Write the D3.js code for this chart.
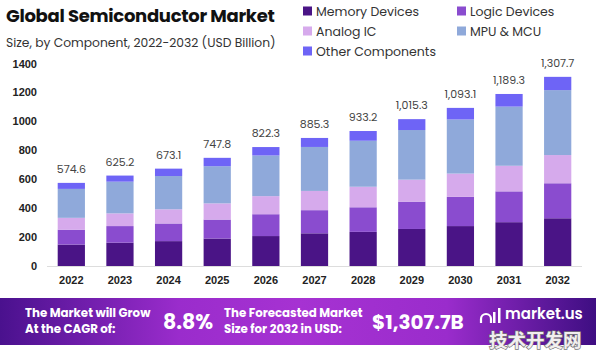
<!DOCTYPE html>
<html><head><meta charset="utf-8">
<script src="https://cdn.jsdelivr.net/npm/d3@7"></script>
<style>
html,body{margin:0;padding:0;background:#fff;}
svg{display:block;font-family:"Poppins","Inter","Noto Sans",sans-serif;}
</style></head>
<body>
<script>
const years = ["2022","2023","2024","2025","2026","2027","2028","2029","2030","2031","2032"];
const totals = [574.6,625.2,673.1,747.8,822.3,885.3,933.2,1015.3,1093.1,1189.3,1307.7];
const totalLabels = ["574.6","625.2","673.1","747.8","822.3","885.3","933.2","1,015.3","1,093.1","1,189.3","1,307.7"];
const memory = [148,161,172,190,207,226,236,256,276,303,330];
const logic  = [103,115,122,131,151,160,170,189,202,213,242];
const analog = [82,88,98,112,125,133,142,152,161,177,195];
const mpu    = [200,219,230,257,281,304,318,343,374,409,449];
const other  = [41.6,42.2,51.1,57.8,58.3,62.3,67.2,75.3,80.1,87.3,91.7];
const seriesNames = ["Memory Devices","Logic Devices","Analog IC","MPU & MCU","Other Components"];
const colors = ["#4a1486","#8a4ccf","#d6aaec","#8fa9da","#6e64f6"];
const yTicks = [0,200,400,600,800,1000,1200,1400];

const W=596,H=352;
const svg=d3.select("body").append("svg").attr("width",W).attr("height",H);

const rows = years.map((y,i)=>({year:y,"Memory Devices":memory[i],"Logic Devices":logic[i],"Analog IC":analog[i],"MPU & MCU":mpu[i],"Other Components":other[i]}));
const stack=d3.stack().keys(seriesNames)(rows);

const x=d3.scaleBand().domain(years).range([47,582]).paddingInner(0.44).paddingOuter(0.22);
const y=d3.scaleLinear().domain([0,1400]).range([266,63.5]);

// title
svg.append("text").attr("x",6).attr("y",22).attr("font-size",18).attr("font-weight",700).attr("fill","#111").attr("letter-spacing",-0.3).text("Global Semiconductor Market");
svg.append("text").attr("x",6).attr("y",47).attr("font-size",12.3).attr("fill","#333").text("Size, by Component, 2022-2032 (USD Billion)");

// legend
const legPos=[[303,11],[457,11],[303,31],[457,31],[303,51]];
seriesNames.forEach((n,i)=>{
  const g=svg.append("g").attr("transform",`translate(${legPos[i][0]},${legPos[i][1]})`);
  g.append("rect").attr("x",0).attr("y",-4.5).attr("width",9).attr("height",9).attr("fill",colors[i]);
  g.append("text").attr("x",13).attr("y",4.5).attr("font-size",12.5).attr("fill","#333").text(n);
});

// y axis
const ya=svg.append("g").attr("transform","translate(37,0)")
  .call(d3.axisLeft(y).tickValues(yTicks).tickFormat(d3.format("d")).tickSize(0).tickPadding(0));
ya.select(".domain").remove();
ya.selectAll("text").attr("font-size",11).attr("font-weight",700).attr("fill","#222").style("font-family","inherit");

// baseline
svg.append("line").attr("x1",47).attr("x2",582).attr("y1",266.5).attr("y2",266.5).attr("stroke","#ddd");

// bars
stack.forEach((s,si)=>{
  svg.append("g").attr("fill",colors[si]).selectAll("rect").data(s).join("rect")
    .attr("x",d=>x(d.data.year)).attr("width",x.bandwidth())
    .attr("y",d=>y(d[1])).attr("height",d=>y(d[0])-y(d[1]));
});

// value labels
svg.append("g").selectAll("text").data(years).join("text")
  .attr("x",d=>x(d)+x.bandwidth()/2).attr("y",(d,i)=>y(totals[i])-10)
  .attr("text-anchor","middle").attr("font-size",11).attr("fill","#444")
  .text((d,i)=>totalLabels[i]);

// x axis
const xa=svg.append("g").attr("transform","translate(0,276)").call(d3.axisBottom(x).tickSize(0).tickPadding(0));
xa.select(".domain").remove();
xa.selectAll("text").attr("font-size",11).attr("font-weight",700).attr("fill","#222").attr("dy","0.71em").style("font-family","inherit");

// banner
const defs=svg.append("defs");
const grad=defs.append("linearGradient").attr("id","bg").attr("x1","0").attr("x2","1");
[[0,"#4a118e"],[0.3,"#9a2ccc"],[0.5,"#a632d2"],[0.75,"#9a2ccc"],[1,"#3e0e82"]].forEach(s=>grad.append("stop").attr("offset",s[0]).attr("stop-color",s[1]));
svg.append("rect").attr("x",0).attr("y",298).attr("width",W).attr("height",47).attr("fill","url(#bg)");

const bt=svg.append("g").attr("fill","#fff").attr("font-weight",700);
bt.append("text").attr("x",25).attr("y",317).attr("font-size",11.8).text("The Market will Grow");
bt.append("text").attr("x",25).attr("y",333).attr("font-size",11.8).text("At the CAGR of:");
bt.append("text").attr("x",163).attr("y",329).attr("font-size",20.5).text("8.8%");
bt.append("text").attr("x",224).attr("y",317).attr("font-size",11.8).text("The Forecasted Market");
bt.append("text").attr("x",224).attr("y",333).attr("font-size",11.8).text("Size for 2032 in USD:");
bt.append("text").attr("x",372).attr("y",329).attr("font-size",20).text("$1,307.7B");
// logo
const lg=svg.append("g").attr("fill","none").attr("stroke","#fff").attr("stroke-width",2.2);
lg.append("path").attr("d","M481,323 v-4 a5,5 0 0 1 10,0 v4");
svg.append("rect").attr("x",493).attr("y",312).attr("width",2.5).attr("height",11).attr("fill","#fff");
svg.append("rect").attr("x",498).attr("y",308).attr("width",2.5).attr("height",15).attr("fill","#fff");
bt.append("text").attr("x",505).attr("y",319).attr("font-size",15).attr("font-weight",600).text("market.us");

// watermark
svg.append("text").attr("x",489).attr("y",347).attr("font-size",18.5).attr("font-weight",700)
  .attr("fill","#f2eef0").attr("stroke","#777").attr("stroke-width",1.4).attr("paint-order","stroke")
  .style("font-family","'Noto Sans CJK SC',sans-serif").text("技术开发网");
</script>
</body></html>
